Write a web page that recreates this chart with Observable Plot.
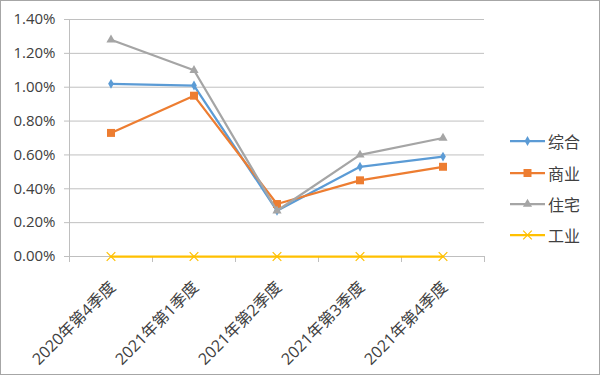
<!DOCTYPE html>
<html><head><meta charset="utf-8">
<script src="https://cdn.jsdelivr.net/npm/d3@7"></script>
<script src="https://cdn.jsdelivr.net/npm/@observablehq/plot@0.6"></script>
<style>
body{margin:0;background:#fff;}
#wrap{position:relative;width:600px;height:375px;font-family:"Open Sans","Noto Sans CJK SC",sans-serif;}
#border{position:absolute;left:0;top:0;width:600px;height:375px;box-sizing:border-box;border:1px solid #A6A6A6;pointer-events:none;}
#legend{position:absolute;left:510px;top:0;}
.item{position:absolute;left:0;display:flex;align-items:center;white-space:nowrap;font-size:16px;color:#404040;font-family:"Noto Sans CJK SC",sans-serif;}
</style>
</head><body>
<div id="wrap"><div id="chart"></div><div id="legend"></div><div id="border"></div></div>
<script>
const categories = ["2020年第4季度","2021年第1季度","2021年第2季度","2021年第3季度","2021年第4季度"];
const seriesNames = ["综合","商业","住宅","工业"];
const zonghe = [1.02,1.01,0.27,0.53,0.59];
const shangye = [0.73,0.95,0.31,0.45,0.53];
const zhuzhai = [1.28,1.10,0.27,0.60,0.70];
const gongye = [0,0,0,0,0];
const colors = ["#5B9BD5","#ED7D31","#A5A5A5","#FFC000"];
const symbols = ["diamond","square","triangle","times"];
const markerR = [3,4.5,3.4,4];
const yTicks = [0,0.2,0.4,0.6,0.8,1.0,1.2,1.4];

const seriesValues = [zonghe, shangye, zhuzhai, gongye];
const data = [];
seriesValues.forEach((vals, k) => vals.forEach((v, i) => data.push({i, v, s: seriesNames[k]})));
const catIdx = categories.map((c, i) => i);
const bounds = categories.map((c, i) => i - 0.5).concat([categories.length - 0.5]);

const marks = [
  Plot.gridY(yTicks.slice(1), {stroke: "#C0C0C0", strokeOpacity: 1, strokeWidth: 1}),
  Plot.axisY({ticks: yTicks, tickFormat: d => d.toFixed(2) + "%", tickSize: 5, tickPadding: 9, stroke: "#BFBFBF", fontSize: 15, fill: "#404040", label: null}),
  Plot.ruleX([-0.5], {stroke: "#BFBFBF"}),
  Plot.ruleY([0], {stroke: "#BFBFBF"}),
  Plot.axisX({ticks: bounds, tickFormat: () => "", tickSize: 6, stroke: "#BFBFBF", label: null}),
  Plot.axisX({ticks: catIdx, tickFormat: i => categories[i], tickSize: 0, tickPadding: 28, dx: 2, tickRotate: -45, fontSize: 16, fill: "#404040", label: null})
];
seriesNames.forEach((name, k) => {
  const d = data.filter(r => r.s === name);
  marks.push(Plot.line(d, {x: "i", y: "v", stroke: colors[k], strokeWidth: 2.25}));
  if (symbols[k] === "times") {
    marks.push(Plot.dot(d, {x: "i", y: "v", symbol: () => symbols[k], r: markerR[k], stroke: colors[k], strokeWidth: 1.2}));
  } else {
    marks.push(Plot.dot(d, {x: "i", y: "v", symbol: () => symbols[k], r: markerR[k], fill: colors[k], stroke: "none"}));
  }
});

const chart = Plot.plot({
  width: 600, height: 375,
  marginLeft: 69, marginRight: 116, marginTop: 19, marginBottom: 119,
  style: {fontFamily: "'Open Sans','Noto Sans CJK SC',sans-serif", background: "#fff"},
  x: {type: "linear", domain: [-0.5, categories.length - 0.5], axis: null},
  y: {domain: [0, 1.4], axis: null},
  symbol: {domain: symbols, range: symbols},
  marks
});
document.getElementById("chart").appendChild(chart);

// legend
const legend = document.getElementById("legend");
const legendY = [140, 172, 203, 234];
seriesNames.forEach((name, k) => {
  const item = document.createElement("div");
  item.className = "item";
  item.style.top = (legendY[k] - 11) + "px";
  const svg = d3.create("svg").attr("width", 38).attr("height", 22);
  svg.append("line").attr("x1", 0).attr("x2", 35).attr("y1", 11).attr("y2", 11).attr("stroke", colors[k]).attr("stroke-width", 2.25);
  const symType = {diamond: d3.symbolDiamond, square: d3.symbolSquare, triangle: d3.symbolTriangle, times: d3.symbolTimes}[symbols[k]];
  const p = svg.append("path").attr("transform", "translate(17.5,11)")
    .attr("d", d3.symbol(symType, Math.PI * markerR[k] * markerR[k])());
  if (symbols[k] === "times") p.attr("fill", "none").attr("stroke", colors[k]).attr("stroke-width", 1.2);
  else p.attr("fill", colors[k]);
  item.appendChild(svg.node());
  const t = document.createElement("span");
  t.textContent = name;
  item.appendChild(t);
  legend.appendChild(item);
});
</script>
</body></html>
